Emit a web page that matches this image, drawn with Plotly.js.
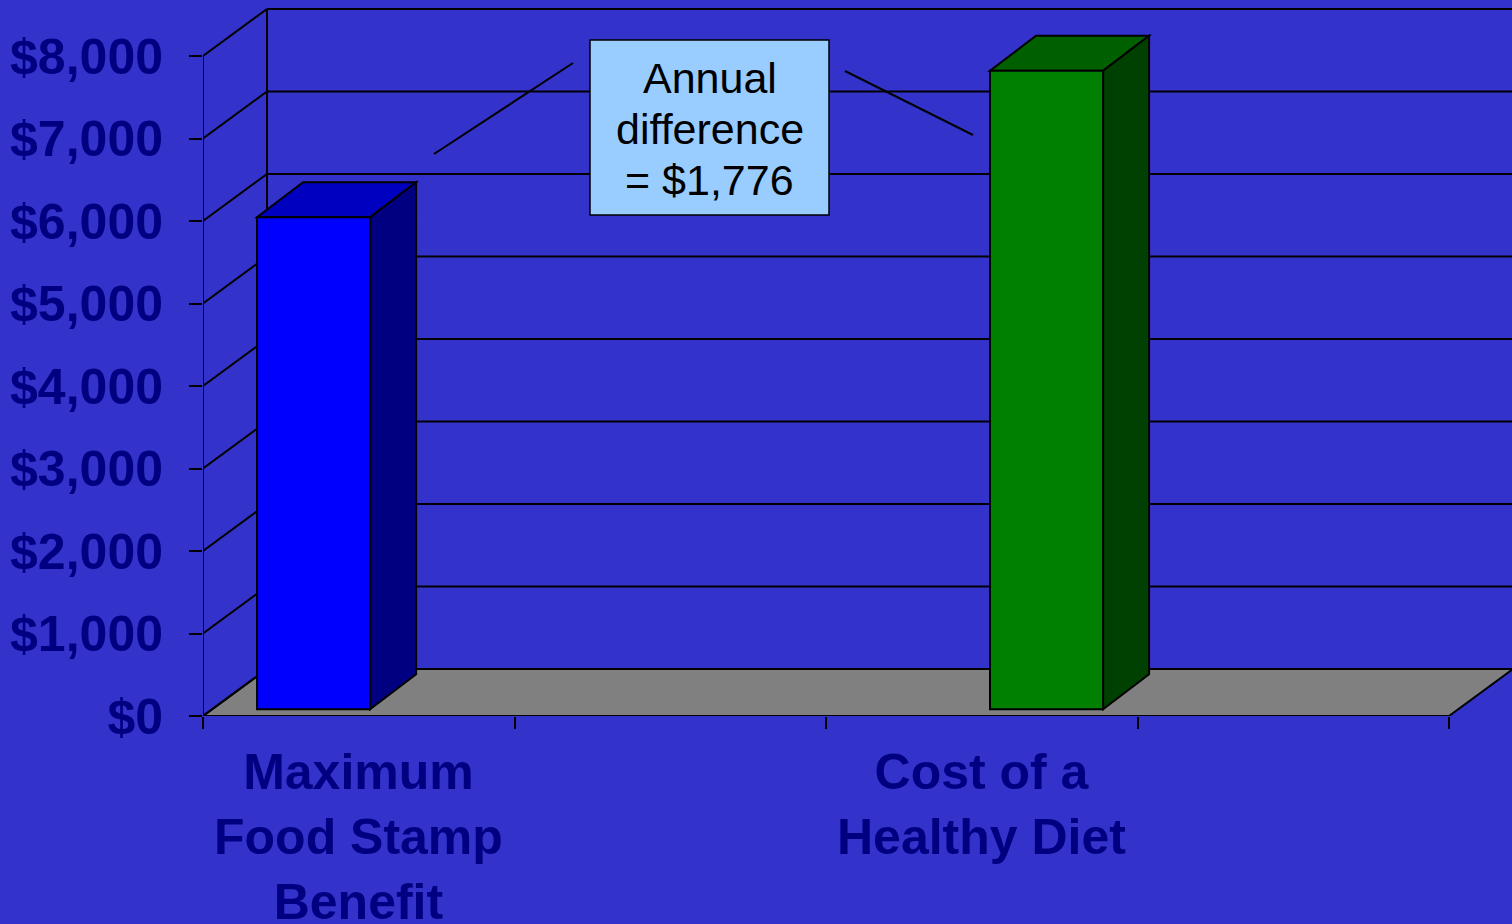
<!DOCTYPE html>
<html>
<head>
<meta charset="utf-8">
<script src="https://cdn.plot.ly/plotly-3.0.1.min.js"></script>
<style>
  html, body { margin: 0; padding: 0; background: #3333CC; }
  #chart { width: 1512px; height: 924px; }
</style>
</head>
<body>
<div id="chart"></div>
<script>
// ---- data ----
const categories = ["Maximum<br>Food Stamp<br>Benefit", "Cost of a<br>Healthy Diet"];
const categoryIndex = [0, 2];
const values = [5964, 7740];
const yTickValues = [0, 1000, 2000, 3000, 4000, 5000, 6000, 7000, 8000];
const noteLines = ["Annual", "difference", "= $1,776"];

// ---- style / layout constants ----
const frontColors = ["#0000FF", "#008000"];
const topColors   = ["#0000C0", "#006000"];
const sideColors  = ["#000080", "#004000"];
const slotOffset  = [0.355, 0.708];   // bar centre inside its category slot
const barWidth = 0.363;
const W = 1512, H = 924;
const mL = 203, mR = 0, mT = 8, mB = 208;
const unitPx = 311.5;                  // px per category unit
const yScale = 660 / 8000;             // px per dollar
const xMax = (W - mL - mR) / unitPx;
const yMax = (H - mT - mB) / yScale;
const wallDx = 64 / unitPx, wallDy = 47 / yScale;     // back-wall depth
const barBase = 6.7 / yScale;                         // bar front plane offset
const barDx = 46 / unitPx, barDy = 35 / yScale;       // bar depth
const nTicks = 4;
const lineBlack = { color: "#000000", width: 2 };
const fontFamily = "Liberation Sans, Arial, sans-serif";

const px2x = p => (p - mL) / unitPx;
const px2y = p => (H - mB - p) / yScale;

const shapes = [];
// floor
shapes.push({
  type: "path", layer: "below", xref: "x", yref: "y",
  path: `M0,0 L${nTicks},0 L${nTicks + wallDx},${wallDy} L${wallDx},${wallDy} Z`,
  fillcolor: "#808080", line: lineBlack
});
// back wall gridlines and left wall lines
yTickValues.forEach(v => {
  if (v > 0) {
    shapes.push({ type: "line", layer: "below", xref: "x", yref: "y",
      x0: wallDx, x1: nTicks + wallDx, y0: v + wallDy, y1: v + wallDy, line: lineBlack });
  }
  shapes.push({ type: "line", layer: "below", xref: "x", yref: "y",
    x0: 0, x1: wallDx, y0: v, y1: v + wallDy, line: lineBlack });
});
// back wall left edge and front-left axis edge
shapes.push({ type: "line", layer: "below", xref: "x", yref: "y",
  x0: wallDx, x1: wallDx, y0: wallDy, y1: 8000 + wallDy, line: lineBlack });
shapes.push({ type: "line", layer: "below", xref: "x", yref: "y",
  x0: 0, x1: 0, y0: 0, y1: 8000, line: lineBlack });

// bar positions
const barX = categoryIndex.map((c, i) => c + slotOffset[i]);

// 3D top and side faces of bars
values.forEach((v, i) => {
  const xl = barX[i] - barWidth / 2, xr = barX[i] + barWidth / 2;
  const yb = barBase, yt = barBase + v;
  shapes.push({ type: "path", layer: "below", xref: "x", yref: "y",
    path: `M${xl},${yt} L${xr},${yt} L${xr + barDx},${yt + barDy} L${xl + barDx},${yt + barDy} Z`,
    fillcolor: topColors[i], line: lineBlack });
  shapes.push({ type: "path", layer: "below", xref: "x", yref: "y",
    path: `M${xr},${yb} L${xr + barDx},${yb + barDy} L${xr + barDx},${yt + barDy} L${xr},${yt} Z`,
    fillcolor: sideColors[i], line: lineBlack });
});

// connector lines from the note box
shapes.push({ type: "line", layer: "above", xref: "x", yref: "y",
  x0: px2x(434), y0: px2y(154), x1: px2x(573), y1: px2y(63),
  line: { color: "#000000", width: 2 } });
shapes.push({ type: "line", layer: "above", xref: "x", yref: "y",
  x0: px2x(845), y0: px2y(71), x1: px2x(973), y1: px2y(135),
  line: { color: "#000000", width: 2 } });
// note box
shapes.push({ type: "rect", layer: "above", xref: "x", yref: "y",
  x0: px2x(590), x1: px2x(829), y0: px2y(40), y1: px2y(215),
  fillcolor: "#99CCFF", line: { color: "#000000", width: 1.5 } });

const annotations = [];
categories.forEach((c, i) => {
  annotations.push({
    text: c, xref: "x", yref: "paper",
    x: categoryIndex[i] + 0.5, y: -(742 - (H - mB)) / (H - mT - mB),
    xanchor: "center", yanchor: "top", showarrow: false,
    font: { family: fontFamily, size: 50, color: "#000080", weight: "bold" }
  });
});
const noteLineY = [78, 129, 180];
noteLines.forEach((t, i) => {
  annotations.push({
    text: t, xref: "x", yref: "y",
    x: px2x(709.5), y: px2y(noteLineY[i]), xanchor: "center", yanchor: "middle",
    showarrow: false,
    font: { family: fontFamily, size: 43, color: "#000000" }
  });
});

const trace = {
  type: "bar",
  x: barX, y: values, base: [barBase, barBase], width: barWidth,
  marker: { color: frontColors, line: { color: "#000000", width: 2 } },
  hoverinfo: "skip", showlegend: false
};

const layout = {
  width: W, height: H,
  margin: { l: mL, r: mR, t: mT, b: mB, pad: 0 },
  paper_bgcolor: "#3333CC", plot_bgcolor: "#3333CC",
  showlegend: false,
  xaxis: {
    range: [0, xMax], showgrid: false, zeroline: false, showline: false,
    tickmode: "array", tickvals: [0, 1, 2, 3, 4], ticktext: ["", "", "", "", ""],
    ticks: "outside", ticklen: 12, tickwidth: 2, tickcolor: "#000000",
    showticklabels: false, fixedrange: true
  },
  yaxis: {
    range: [0, yMax], showgrid: false, zeroline: false, showline: false,
    tickmode: "array", tickvals: yTickValues,
    ticktext: yTickValues.map(v => "$" + v.toLocaleString("en-US")),
    ticks: "outside", ticklen: 13, tickwidth: 2, tickcolor: "#000000",
    ticklabelstandoff: 16,
    tickfont: { family: fontFamily, size: 50, color: "#000080", weight: "bold" },
    fixedrange: true
  },
  shapes: shapes,
  annotations: annotations
};

Plotly.newPlot("chart", [trace], layout, { displayModeBar: false, staticPlot: true });
</script>
</body>
</html>
